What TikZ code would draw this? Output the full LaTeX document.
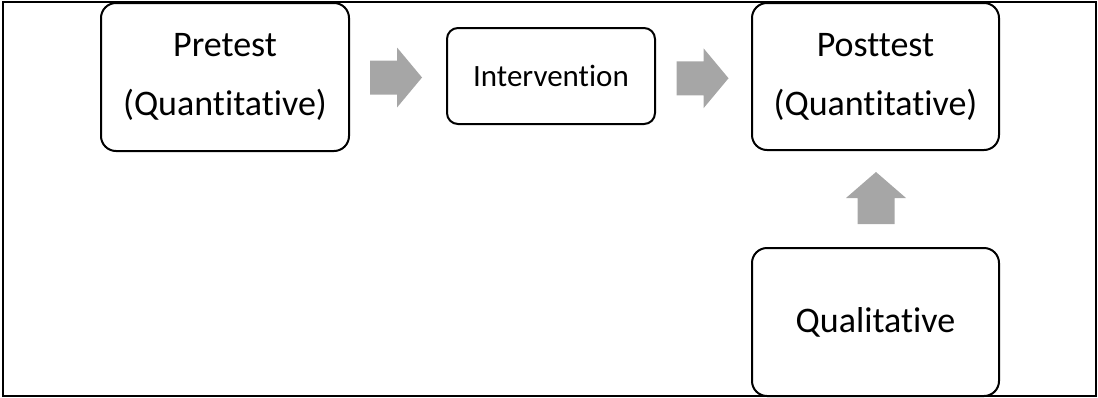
\documentclass[tikz,border=0pt]{standalone}
\usepackage{fontspec}
\setmainfont{Carlito}[Ligatures={NoCommon}]
\usetikzlibrary{calc}
\definecolor{arrowgray}{HTML}{A6A6A6}
\begin{document}
\begin{tikzpicture}[x=1pt,y=-1pt,
  box/.style={draw=black,line width=2pt,rounded corners=15pt,align=center,inner sep=0pt,
    font=\fontsize{36}{59}\selectfont},
  rightblock/.pic={\fill[arrowgray] (-26,-17) -- (1,-17) -- (1,-30) -- (26,0) -- (1,30) -- (1,17) -- (-26,17) -- cycle;},
  upblock/.pic={\fill[arrowgray] (0,-26) -- (30,0) -- (18.5,0) -- (18.5,26) -- (-18.5,26) -- (-18.5,0) -- (-30,0) -- cycle;}]
\useasboundingbox (0,0) rectangle (1098,397);
\draw[line width=2pt] (3,2) rectangle (1096,396);
\node[box,minimum width=248pt,minimum height=148pt] (pre) at (225,77) {Pretest\\(Quantitative)};
\node[box,minimum width=208pt,minimum height=96pt,rounded corners=11pt,
  font=\fontsize{31}{40}\selectfont] (int) at (551,76) {Intervention};
\node[box,minimum width=247pt,minimum height=147pt] (post) at (875.5,76.5) {Posttest\\(Quantitative)};
\node[box,minimum width=247pt,minimum height=148pt] (qual) at (875.5,322) {Qualitative};
\coordinate (a1) at ($(pre.east)!0.5!(int.west)+(-2,1)$);
\coordinate (a2) at ($(int.east)!0.5!(post.west)+(-1,2)$);
\coordinate (a3) at ($(qual.north)!0.5!(post.south)+(0.5,-1)$);
\pic at (a1) {rightblock};
\pic at (a2) {rightblock};
\pic at (a3) {upblock};
\end{tikzpicture}
\end{document}
